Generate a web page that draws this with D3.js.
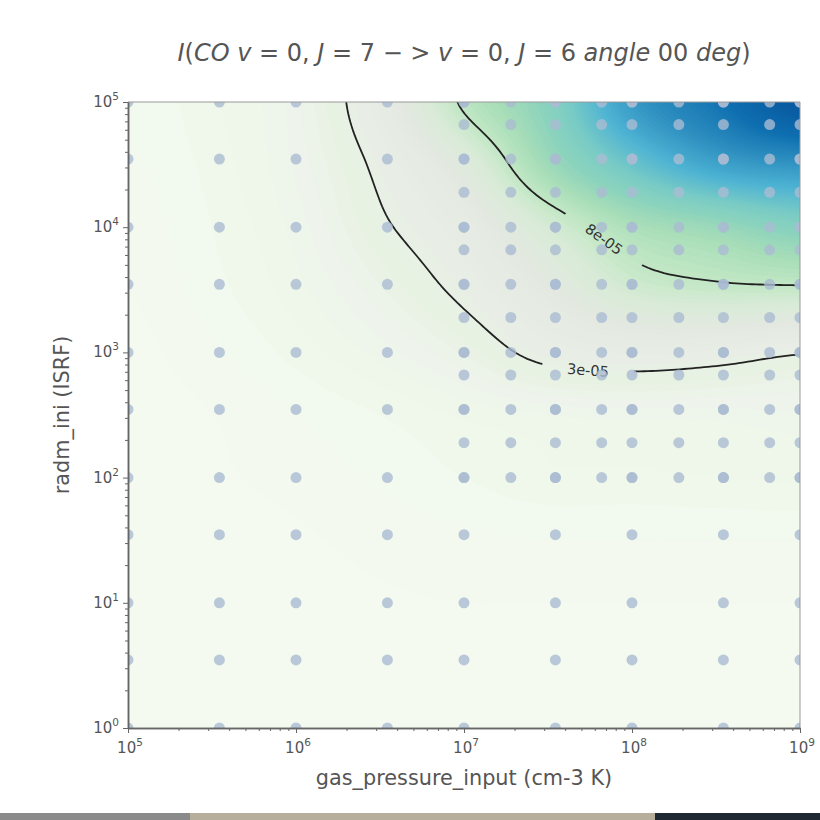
<!DOCTYPE html>
<html>
<head>
<meta charset="utf-8">
<script src="https://cdn.jsdelivr.net/npm/d3@7"></script>
<style>
  body { margin: 0; background: #fff; }
  svg { font-family: "DejaVu Sans", sans-serif; }
</style>
</head>
<body>
<svg id="chart" width="820" height="820"></svg>
<script>
// model grid points (gas pressure, radiation field)
const coarseX = [1e5, 3.5e5, 1e6, 3.5e6, 1e7, 3.5e7, 1e8, 3.5e8, 1e9];
const coarseY = [1, 3.5, 10, 35, 100, 350, 1e3, 3.5e3, 1e4, 3.5e4, 1e5];
const fineX = [1e7, 1.9e7, 3.5e7, 6.6e7, 1e8, 1.9e8, 3.5e8, 6.6e8, 1e9];
const fineY = [100, 190, 350, 660, 1e3, 1.9e3, 3.5e3, 6.6e3, 1e4, 1.9e4, 3.5e4, 6.6e4, 1e5];

// line intensity, in units of 1e-5, on a half-decade grid
const fieldLogX = [5, 5.5, 6, 6.5, 7, 7.5, 8, 8.5, 9];
const fieldLogY = [5, 4.5, 4, 3.5, 3, 2.5, 2, 1.5, 1, 0.5, 0];
const row5   = [0.8, 1.2, 1.9, 4.1, 8.3, 11.5, 17, 20.5, 25];
const row45  = [0.7, 1.1, 1.8, 3.3, 5.8, 10, 13.5, 16.3, 17.5];
const row4   = [0.6, 1.0, 1.6, 2.8, 4.2, 6.8, 9.2, 10.3, 11.7];
const row35  = [0.5, 0.9, 1.4, 2.2, 3.3, 5.0, 7.0, 7.6, 7.7];
const row3   = [0.4, 0.7, 1.1, 1.6, 2.3, 3.4, 3.8, 3.6, 3.1];
const row25  = [0.35, 0.5, 0.75, 1.0, 1.3, 1.5, 1.6, 1.6, 1.7];
const row2   = [0.3, 0.45, 0.6, 0.8, 1.0, 1.2, 1.2, 1.25, 1.3];
const row15  = [0.25, 0.35, 0.45, 0.6, 0.7, 0.75, 0.75, 0.75, 0.75];
const row1   = [0.2, 0.3, 0.35, 0.45, 0.5, 0.5, 0.5, 0.5, 0.5];
const row05  = [0.2, 0.25, 0.3, 0.35, 0.4, 0.4, 0.4, 0.4, 0.4];
const row0   = [0.2, 0.25, 0.3, 0.35, 0.4, 0.4, 0.4, 0.4, 0.4];
const fieldRows = [row5, row45, row4, row35, row3, row25, row2, row15, row1, row05, row0];

// labelled contour lines
const lineLevels = [3, 8];
const lineLabels = ["3e-05", "8e-05"];
const labelAtX = [5.6e7, 6.8e7];

// colour ramp (GnBu-like, as seen)
const colorStops = [0, 0.6, 1.2, 1.8, 2.5, 3.5, 5, 6.5, 8, 9.5, 11, 12.5, 15, 18, 21, 25];
const colorHex = ["#f5faf1", "#f3f9ef", "#eef7ea", "#eef3ec", "#e7f2e3", "#e8ede6", "#e3e8e1",
  "#d9ebd7", "#c0e6c4", "#a6ddb8", "#8cd3bd", "#7bccc4", "#4eb3d3", "#2b8cbe", "#0f6fb0", "#08579f"];

const margin = {top: 102, left: 128, right: 20, bottom: 92};
const W = 820, H = 820;
const x0 = margin.left, x1 = W - margin.right, y0 = margin.top, y1 = H - margin.bottom;

const svg = d3.select("#chart");
const xScale = d3.scaleLog().domain([1e5, 1e9]).range([x0, x1]);
const yScale = d3.scaleLog().domain([1, 1e5]).range([y1, y0]);
const color = d3.scaleLinear().domain(colorStops).range(colorHex).interpolate(d3.interpolateRgb).clamp(true);

// bicubic (catmull-rom) lookup of the field
function cr(p0, p1, p2, p3, t) {
  return 0.5 * (2 * p1 + (-p0 + p2) * t + (2 * p0 - 5 * p1 + 4 * p2 - p3) * t * t + (-p0 + 3 * p1 - 3 * p2 + p3) * t * t * t);
}
function field(lx, ly) {
  const fx = (lx - fieldLogX[0]) / 0.5, fy = (fieldLogY[0] - ly) / 0.5;
  const i = Math.min(Math.floor(fx), fieldLogX.length - 2), j = Math.min(Math.floor(fy), fieldLogY.length - 2);
  const tx = fx - i, ty = fy - j;
  const g = (r, c) => fieldRows[Math.max(0, Math.min(fieldLogY.length - 1, r))][Math.max(0, Math.min(fieldLogX.length - 1, c))];
  const rv = r => cr(g(r, i - 1), g(r, i), g(r, i + 1), g(r, i + 2), tx);
  return cr(rv(j - 1), rv(j), rv(j + 1), rv(j + 2), ty);
}

const nx = 169, ny = 157;
const values = new Array(nx * ny);
for (let j = 0; j < ny; j++) {
  const ly = 5 - 5 * j / (ny - 1);
  for (let i = 0; i < nx; i++) {
    const lx = 5 + 4 * i / (nx - 1);
    values[j * nx + i] = field(lx, ly);
  }
}
const sx = (x1 - x0) / (nx - 1), sy = (y1 - y0) / (ny - 1);
const toPx = p => [x0 + (p[0] - 0.5) * sx, y0 + (p[1] - 0.5) * sy];
const path = d3.geoPath(d3.geoTransform({
  point: function (x, y) { const p = toPx([x, y]); this.stream.point(p[0], p[1]); }
}));

const defs = svg.append("defs");
defs.append("clipPath").attr("id", "plotClip")
  .append("rect").attr("x", x0).attr("y", y0).attr("width", x1 - x0).attr("height", y1 - y0);

// filled contours
const fillLevels = d3.range(0, 27, 0.25);
const fills = d3.contours().size([nx, ny]).thresholds(fillLevels)(values);
svg.append("g").attr("clip-path", "url(#plotClip)")
  .selectAll("path").data(fills).join("path")
  .attr("d", path)
  .attr("fill", d => color(d.value))
  .attr("stroke", d => color(d.value))
  .attr("stroke-width", 0.3);

// label positions on the contour lines
function placeLabel(level, targetX) {
  const c = d3.contours().size([nx, ny]).thresholds([level])(values)[0];
  const tx = xScale(targetX);
  let best = null;
  c.coordinates.forEach(poly => poly.forEach(ring => {
    const pts = ring.map(toPx);
    pts.forEach((p, k) => {
      if (p[0] < x0 + 2 || p[0] > x1 - 2 || p[1] < y0 + 2 || p[1] > y1 - 2) return;
      const d = Math.abs(p[0] - tx);
      if (!best || d < best.d) best = {d, pts, k};
    });
  }));
  const {pts, k} = best;
  const a = pts[Math.max(0, k - 7)], b = pts[Math.min(pts.length - 1, k + 7)];
  let ang = Math.atan2(b[1] - a[1], b[0] - a[0]) * 180 / Math.PI;
  if (ang > 90) ang -= 180;
  if (ang < -90) ang += 180;
  return {x: pts[k][0], y: pts[k][1], ang};
}
const labels = lineLevels.map((lv, i) => Object.assign(placeLabel(lv, labelAtX[i]), {text: lineLabels[i]}));

const mask = defs.append("mask").attr("id", "lineMask").attr("maskUnits", "userSpaceOnUse")
  .attr("x", 0).attr("y", 0).attr("width", W).attr("height", H);
mask.append("rect").attr("x", 0).attr("y", 0).attr("width", W).attr("height", H).attr("fill", "#fff");
mask.selectAll("rect.gap").data(labels).join("rect").attr("class", "gap")
  .attr("x", -46).attr("y", -12).attr("width", 92).attr("height", 24).attr("fill", "#000")
  .attr("transform", d => `translate(${d.x},${d.y}) rotate(${d.ang})`);

const lines = d3.contours().size([nx, ny]).thresholds(lineLevels)(values);
svg.append("g").attr("clip-path", "url(#plotClip)")
  .append("g").attr("mask", "url(#lineMask)")
  .selectAll("path").data(lines).join("path")
  .attr("d", path)
  .attr("fill", "none")
  .attr("stroke", "#222")
  .attr("stroke-width", 1.8);

svg.append("g").selectAll("text").data(labels).join("text")
  .attr("transform", d => `translate(${d.x},${d.y}) rotate(${d.ang})`)
  .attr("text-anchor", "middle")
  .attr("dy", "0.35em")
  .attr("font-size", 14.5)
  .attr("fill", "#333")
  .text(d => d.text);

// sample points
const pts = [];
coarseX.forEach(gx => coarseY.forEach(gy => pts.push([gx, gy])));
fineX.forEach(gx => fineY.forEach(gy => pts.push([gx, gy])));
svg.append("g").attr("clip-path", "url(#plotClip)")
  .selectAll("circle").data(pts).join("circle")
  .attr("cx", d => xScale(d[0]))
  .attr("cy", d => yScale(d[1]))
  .attr("r", 5.5)
  .attr("fill", "#aabcd2")
  .attr("fill-opacity", 0.8);

// frame
svg.append("line").attr("x1", x0).attr("x2", x1).attr("y1", y0).attr("y2", y0).attr("stroke", "#999").attr("stroke-width", 1);
svg.append("line").attr("x1", x1).attr("x2", x1).attr("y1", y0).attr("y2", y1).attr("stroke", "#999").attr("stroke-width", 1);

// axes
const xMajor = [1e5, 1e6, 1e7, 1e8, 1e9];
const yMajor = [1, 10, 100, 1e3, 1e4, 1e5];
const minorOf = decs => decs.flatMap(d => d3.range(2, 10).map(k => k * d));
const xMinor = minorOf([1e5, 1e6, 1e7, 1e8]);
const yMinor = minorOf([1, 10, 100, 1e3, 1e4]);

function styleAxis(g) {
  g.select(".domain").attr("stroke", "#666").attr("stroke-width", 1.5);
  g.selectAll(".tick line").attr("stroke", "#666");
}
const xAxisG = svg.append("g").attr("transform", `translate(0,${y1})`);
xAxisG.append("g").call(d3.axisBottom(xScale).tickValues(xMinor).tickSize(3).tickFormat("").tickSizeOuter(0)).call(styleAxis);
xAxisG.append("g").call(d3.axisBottom(xScale).tickValues(xMajor).tickSize(5).tickFormat("").tickSizeOuter(0)).call(styleAxis);
const yAxisG = svg.append("g").attr("transform", `translate(${x0},0)`);
yAxisG.append("g").call(d3.axisLeft(yScale).tickValues(yMinor).tickSize(3).tickFormat("").tickSizeOuter(0)).call(styleAxis);
yAxisG.append("g").call(d3.axisLeft(yScale).tickValues(yMajor).tickSize(5).tickFormat("").tickSizeOuter(0)).call(styleAxis);

function powLabel(sel) {
  sel.append("tspan").text("10");
  sel.append("tspan").attr("font-size", 10.5).attr("dy", -7).text(d => Math.round(Math.log10(d)));
}
svg.append("g").selectAll("text").data(xMajor).join("text")
  .attr("x", d => xScale(d) + 2).attr("y", y1 + 25)
  .attr("text-anchor", "middle").attr("font-size", 15).attr("fill", "#555")
  .call(powLabel);
svg.append("g").selectAll("text").data(yMajor).join("text")
  .attr("x", x0 - 9).attr("y", d => yScale(d) + 5)
  .attr("text-anchor", "end").attr("font-size", 15).attr("fill", "#555")
  .call(powLabel);

svg.append("text")
  .attr("x", (x0 + x1) / 2).attr("y", 785)
  .attr("text-anchor", "middle").attr("font-size", 20.8).attr("fill", "#555")
  .text("gas_pressure_input (cm-3 K)");
svg.append("text")
  .attr("transform", `translate(69,${(y0 + y1) / 2}) rotate(-90)`)
  .attr("text-anchor", "middle").attr("font-size", 20.8).attr("fill", "#555")
  .text("radm_ini (ISRF)");

// title, mathtext style
const titleParts = [
  ["I", 1], ["(", 0], ["CO", 1], [" ", 0], ["v", 1], [" = 0, ", 0], ["J", 1], [" = 7 \u2212 > ", 0],
  ["v", 1], [" = 0, ", 0], ["J", 1], [" = 6 ", 0], ["angle", 1], [" 00 ", 0], ["deg", 1], [")", 0]
];
svg.append("text")
  .attr("x", (x0 + x1) / 2).attr("y", 61)
  .attr("text-anchor", "middle").attr("font-size", 24).attr("fill", "#555")
  .attr("xml:space", "preserve")
  .selectAll("tspan").data(titleParts).join("tspan")
  .attr("font-style", d => d[1] ? "italic" : "normal")
  .text(d => d[0]);

// screenshot edge strip
svg.append("rect").attr("x", 0).attr("y", 813).attr("width", 190).attr("height", 7).attr("fill", "#8a8a8a");
svg.append("rect").attr("x", 190).attr("y", 813).attr("width", 465).attr("height", 7).attr("fill", "#b6ae9a");
svg.append("rect").attr("x", 655).attr("y", 813).attr("width", 165).attr("height", 7).attr("fill", "#1f2933");
</script>
</body>
</html>
